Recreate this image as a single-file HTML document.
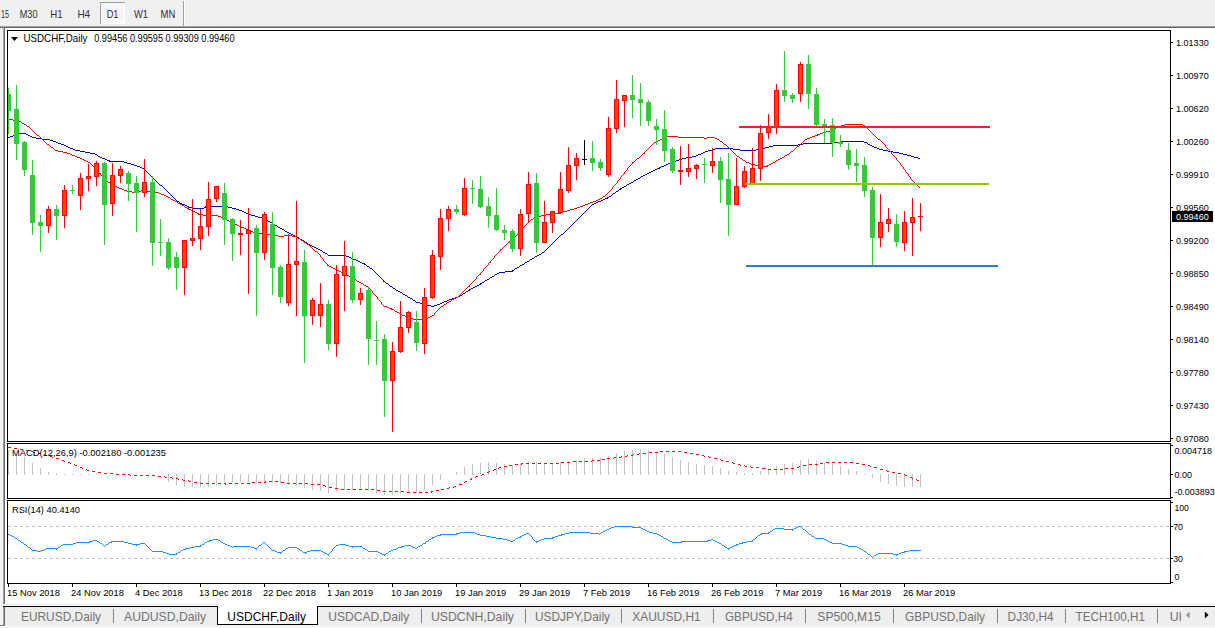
<!DOCTYPE html>
<html><head><meta charset="utf-8"><title>USDCHF,Daily</title>
<style>html,body{margin:0;padding:0;background:#fff;overflow:hidden}body{width:1215px;height:628px;font-family:"Liberation Sans",sans-serif}svg{display:block}</style></head>
<body>
<svg width="1215" height="628" viewBox="0 0 1215 628" font-family="Liberation Sans, sans-serif" shape-rendering="crispEdges">
<defs><clipPath id="cm"><rect x="8" y="31" width="1162" height="410"/></clipPath><clipPath id="cax"><rect x="1171" y="28" width="44" height="414"/></clipPath><clipPath id="ctab"><rect x="0" y="607" width="1181" height="19"/></clipPath><pattern id="dots" width="2" height="2" patternUnits="userSpaceOnUse"><rect width="2" height="2" fill="#f0f0f0"/><rect width="1" height="1" fill="#fbfbfb"/><rect x="1" y="1" width="1" height="1" fill="#fbfbfb"/></pattern></defs>
<rect x="0" y="0" width="1215" height="628" fill="#ffffff"/>
<rect x="0" y="0" width="1215" height="26" fill="#f0f0f0"/>
<rect x="0" y="26" width="1215" height="1" fill="#a0a0a0"/>
<rect x="0" y="27" width="1215" height="1" fill="#696969"/>
<rect x="0" y="28" width="3" height="600" fill="#f4f4f4"/>
<rect x="3" y="27" width="1" height="598" fill="#a0a0a0"/>
<rect x="4" y="27" width="1" height="598" fill="#696969"/>
<rect x="100" y="2" width="25" height="22" fill="url(#dots)"/>
<rect x="100" y="2" width="25" height="1" fill="#a0a0a0"/>
<rect x="100" y="2" width="1" height="22" fill="#a0a0a0"/>
<rect x="124" y="3" width="1" height="21" fill="#ffffff"/>
<rect x="101" y="23" width="24" height="1" fill="#ffffff"/>
<rect x="183" y="1" width="1" height="25" fill="#a0a0a0"/>
<rect x="184" y="1" width="1" height="25" fill="#ffffff"/>
<text x="1" y="17.8" font-size="10.2" fill="#303030" textLength="8" lengthAdjust="spacingAndGlyphs">15</text>
<text x="19.75" y="17.8" font-size="10.2" fill="#303030" textLength="17.8" lengthAdjust="spacingAndGlyphs">M30</text>
<text x="50.2" y="17.8" font-size="10.2" fill="#303030" textLength="12.3" lengthAdjust="spacingAndGlyphs">H1</text>
<text x="77.4" y="17.8" font-size="10.2" fill="#303030" textLength="12.8" lengthAdjust="spacingAndGlyphs">H4</text>
<text x="106.7" y="17.8" font-size="10.2" fill="#303030" textLength="11.8" lengthAdjust="spacingAndGlyphs">D1</text>
<text x="134" y="17.8" font-size="10.2" fill="#303030" textLength="14" lengthAdjust="spacingAndGlyphs">W1</text>
<text x="160.5" y="17.8" font-size="10.2" fill="#303030" textLength="14.8" lengthAdjust="spacingAndGlyphs">MN</text>
<rect x="7" y="30" width="1164" height="1" fill="#000"/>
<rect x="7" y="441" width="1164" height="1" fill="#000"/>
<rect x="7" y="30" width="1" height="412" fill="#000"/>
<rect x="1170" y="30" width="1" height="412" fill="#000"/>
<rect x="7" y="443" width="1164" height="1" fill="#000"/>
<rect x="7" y="498" width="1164" height="1" fill="#000"/>
<rect x="7" y="443" width="1" height="56" fill="#000"/>
<rect x="1170" y="443" width="1" height="56" fill="#000"/>
<rect x="7" y="500" width="1164" height="1" fill="#000"/>
<rect x="7" y="583" width="1164" height="1" fill="#000"/>
<rect x="7" y="500" width="1" height="84" fill="#000"/>
<rect x="1170" y="500" width="1" height="84" fill="#000"/>
<g clip-path="url(#cm)">
<path d="M19 133h7v1h-7zM15 134h4v1h-4zM26 134h2v1h-2zM13 135h3v1h-3zM28 135h2v1h-2zM10 136h3v1h-3zM30 136h2v1h-2zM8 137h2v1h-2zM32 137h4v1h-4zM36 138h6v1h-6zM42 139h8v1h-8zM50 140h3v1h-3zM53 141h3v1h-3zM840 141h24v1h-24zM56 142h2v1h-2zM832 142h8v1h-8zM864 142h3v1h-3zM58 143h3v1h-3zM803 143h30v1h-30zM867 143h1v1h-1zM61 144h3v1h-3zM798 144h5v1h-5zM868 144h2v1h-2zM64 145h2v1h-2zM773 145h25v1h-25zM870 145h2v1h-2zM66 146h2v1h-2zM769 146h4v1h-4zM872 146h2v1h-2zM68 147h2v1h-2zM765 147h4v1h-4zM874 147h3v1h-3zM70 148h3v1h-3zM715 148h18v1h-18zM760 148h5v1h-5zM877 148h2v1h-2zM73 149h2v1h-2zM712 149h3v1h-3zM733 149h7v1h-7zM756 149h4v1h-4zM879 149h4v1h-4zM75 150h5v1h-5zM708 150h4v1h-4zM740 150h16v1h-16zM883 150h5v1h-5zM80 151h5v1h-5zM705 151h3v1h-3zM888 151h5v1h-5zM85 152h5v1h-5zM703 152h2v1h-2zM893 152h6v1h-6zM90 153h5v1h-5zM701 153h2v1h-2zM899 153h4v1h-4zM95 154h2v1h-2zM698 154h3v1h-3zM903 154h4v1h-4zM97 155h1v1h-1zM696 155h2v1h-2zM907 155h4v1h-4zM98 156h2v1h-2zM692 156h4v1h-4zM911 156h3v1h-3zM100 157h2v1h-2zM686 157h6v1h-6zM914 157h4v1h-4zM102 158h3v1h-3zM682 158h4v1h-4zM918 158h2v1h-2zM105 159h2v1h-2zM679 159h3v1h-3zM107 160h3v1h-3zM676 160h3v1h-3zM109 161h15v1h-15zM673 161h3v1h-3zM124 162h3v1h-3zM671 162h2v1h-2zM127 163h4v1h-4zM668 163h3v1h-3zM131 164h3v1h-3zM666 164h2v1h-2zM134 165h3v1h-3zM664 165h2v1h-2zM137 166h3v1h-3zM661 166h3v1h-3zM140 167h2v1h-2zM659 167h2v1h-2zM142 168h2v1h-2zM657 168h3v1h-3zM144 169h1v1h-1zM655 169h2v1h-2zM145 170h1v1h-1zM653 170h2v1h-2zM146 171h1v1h-1zM651 171h2v1h-2zM147 172h1v1h-1zM649 172h2v1h-2zM148 173h1v1h-1zM647 173h2v1h-2zM149 174h1v1h-1zM645 174h2v1h-2zM150 175h1v1h-1zM643 175h2v1h-2zM151 176h1v1h-1zM641 176h2v1h-2zM152 177h1v1h-1zM640 177h1v1h-1zM153 178h1v1h-1zM638 178h2v1h-2zM154 179h1v1h-1zM636 179h2v1h-2zM155 180h1v1h-1zM634 180h2v1h-2zM156 181h1v1h-1zM633 181h1v1h-1zM157 182h1v1h-1zM631 182h2v1h-2zM158 183h1v1h-1zM629 183h2v1h-2zM159 184h1v1h-1zM627 184h2v1h-2zM160 185h2v1h-2zM626 185h1v1h-1zM162 186h1v1h-1zM624 186h2v1h-2zM163 187h1v1h-1zM622 187h2v1h-2zM164 188h1v1h-1zM620 188h2v1h-2zM165 189h1v1h-1zM619 189h2v1h-2zM166 190h1v1h-1zM618 190h1v1h-1zM167 191h1v1h-1zM616 191h2v1h-2zM168 192h1v1h-1zM615 192h1v1h-1zM169 193h1v1h-1zM613 193h2v1h-2zM170 194h1v1h-1zM612 194h1v1h-1zM171 195h1v1h-1zM611 195h1v1h-1zM172 196h1v1h-1zM609 196h2v1h-2zM173 197h1v1h-1zM607 197h2v1h-2zM174 198h1v1h-1zM605 198h3v1h-3zM175 199h1v1h-1zM603 199h2v1h-2zM176 200h1v1h-1zM601 200h2v1h-2zM177 201h2v1h-2zM598 201h3v1h-3zM179 202h1v1h-1zM596 202h2v1h-2zM180 203h2v1h-2zM594 203h2v1h-2zM182 204h3v1h-3zM592 204h2v1h-2zM185 205h2v1h-2zM591 205h1v1h-1zM187 206h2v1h-2zM205 206h23v1h-23zM590 206h1v1h-1zM188 207h5v1h-5zM204 207h2v1h-2zM228 207h4v1h-4zM589 207h1v1h-1zM193 208h11v1h-11zM232 208h4v1h-4zM588 208h1v1h-1zM236 209h3v1h-3zM587 209h1v1h-1zM239 210h3v1h-3zM586 210h1v1h-1zM242 211h2v1h-2zM585 211h1v1h-1zM244 212h2v1h-2zM584 212h1v1h-1zM246 213h2v1h-2zM583 213h1v1h-1zM248 214h3v1h-3zM582 214h1v1h-1zM251 215h4v1h-4zM581 215h1v1h-1zM255 216h3v1h-3zM580 216h1v1h-1zM258 217h4v1h-4zM579 217h1v1h-1zM262 218h3v1h-3zM578 218h1v1h-1zM265 219h1v1h-1zM577 219h1v1h-1zM266 220h2v1h-2zM576 220h1v1h-1zM268 221h2v1h-2zM575 221h1v1h-1zM270 222h2v1h-2zM574 222h1v1h-1zM272 223h1v1h-1zM573 223h1v1h-1zM273 224h2v1h-2zM572 224h1v1h-1zM275 225h2v1h-2zM571 225h1v1h-1zM277 226h1v1h-1zM570 226h1v1h-1zM278 227h2v1h-2zM569 227h1v1h-1zM280 228h2v1h-2zM568 228h1v1h-1zM282 229h2v1h-2zM567 229h1v1h-1zM284 230h1v1h-1zM566 230h1v1h-1zM285 231h2v1h-2zM565 231h1v1h-1zM287 232h2v1h-2zM564 232h1v1h-1zM289 233h2v1h-2zM563 233h1v1h-1zM291 234h2v1h-2zM561 234h2v1h-2zM293 235h2v1h-2zM560 235h1v1h-1zM295 236h2v1h-2zM559 236h1v1h-1zM297 237h2v1h-2zM558 237h1v1h-1zM299 238h1v1h-1zM557 238h1v1h-1zM300 239h2v1h-2zM556 239h1v1h-1zM302 240h2v1h-2zM555 240h1v1h-1zM304 241h1v1h-1zM554 241h1v1h-1zM305 242h2v1h-2zM553 242h1v1h-1zM307 243h1v1h-1zM552 243h1v1h-1zM308 244h2v1h-2zM551 244h1v1h-1zM310 245h2v1h-2zM550 245h1v1h-1zM312 246h2v1h-2zM549 246h1v1h-1zM314 247h2v1h-2zM548 247h1v1h-1zM316 248h2v1h-2zM547 248h1v1h-1zM318 249h2v1h-2zM546 249h1v1h-1zM320 250h2v1h-2zM545 250h1v1h-1zM322 251h1v1h-1zM544 251h1v1h-1zM323 252h2v1h-2zM542 252h2v1h-2zM325 253h2v1h-2zM541 253h1v1h-1zM327 254h1v1h-1zM539 254h2v1h-2zM328 255h18v1h-18zM537 255h2v1h-2zM346 256h3v1h-3zM535 256h2v1h-2zM349 257h2v1h-2zM534 257h1v1h-1zM351 258h2v1h-2zM532 258h2v1h-2zM353 259h3v1h-3zM530 259h2v1h-2zM356 260h2v1h-2zM529 260h1v1h-1zM358 261h2v1h-2zM527 261h2v1h-2zM360 262h2v1h-2zM525 262h2v1h-2zM362 263h3v1h-3zM524 263h1v1h-1zM364 264h2v1h-2zM522 264h2v1h-2zM366 265h1v1h-1zM520 265h2v1h-2zM367 266h2v1h-2zM519 266h1v1h-1zM369 267h1v1h-1zM517 267h2v1h-2zM370 268h2v1h-2zM515 268h2v1h-2zM372 269h1v1h-1zM514 269h1v1h-1zM373 270h1v1h-1zM512 270h2v1h-2zM374 271h1v1h-1zM505 271h8v1h-8zM375 272h1v1h-1zM499 272h6v1h-6zM376 273h1v1h-1zM497 273h2v1h-2zM377 274h1v1h-1zM495 274h2v1h-2zM378 275h1v1h-1zM494 275h1v1h-1zM379 276h1v1h-1zM492 276h2v1h-2zM380 277h1v1h-1zM490 277h2v1h-2zM381 278h1v1h-1zM489 278h1v1h-1zM382 279h1v1h-1zM487 279h2v1h-2zM383 280h1v1h-1zM485 280h2v1h-2zM383 281h2v1h-2zM484 281h1v1h-1zM385 282h1v1h-1zM482 282h2v1h-2zM386 283h2v1h-2zM480 283h2v1h-2zM388 284h1v1h-1zM479 284h2v1h-2zM389 285h1v1h-1zM477 285h2v1h-2zM390 286h2v1h-2zM475 286h2v1h-2zM392 287h1v1h-1zM473 287h2v1h-2zM393 288h2v1h-2zM471 288h2v1h-2zM395 289h1v1h-1zM469 289h2v1h-2zM396 290h2v1h-2zM468 290h2v1h-2zM398 291h2v1h-2zM466 291h2v1h-2zM400 292h2v1h-2zM465 292h1v1h-1zM402 293h1v1h-1zM463 293h2v1h-2zM403 294h2v1h-2zM462 294h1v1h-1zM405 295h2v1h-2zM460 295h2v1h-2zM407 296h1v1h-1zM458 296h2v1h-2zM408 297h2v1h-2zM455 297h3v1h-3zM410 298h2v1h-2zM452 298h3v1h-3zM412 299h1v1h-1zM449 299h3v1h-3zM413 300h2v1h-2zM447 300h2v1h-2zM415 301h1v1h-1zM444 301h3v1h-3zM416 302h4v1h-4zM442 302h2v1h-2zM420 303h4v1h-4zM440 303h2v1h-2zM424 304h2v1h-2zM437 304h3v1h-3zM426 305h5v1h-5zM434 305h3v1h-3zM431 306h3v1h-3z" fill="#0000CD"/>
<path d="M8 119h5v1h-5zM13 120h6v1h-6zM19 121h2v1h-2zM21 122h1v1h-1zM22 123h2v1h-2zM24 124h2v1h-2zM845 124h18v1h-18zM26 125h1v1h-1zM841 125h4v1h-4zM863 125h2v1h-2zM27 126h2v1h-2zM839 126h2v1h-2zM865 126h1v1h-1zM29 127h1v1h-1zM836 127h3v1h-3zM866 127h1v1h-1zM30 128h1v1h-1zM834 128h2v1h-2zM867 128h1v1h-1zM31 129h1v1h-1zM832 129h2v1h-2zM868 129h1v1h-1zM32 130h1v1h-1zM830 130h2v1h-2zM869 130h1v1h-1zM33 131h1v1h-1zM826 131h4v1h-4zM870 131h1v1h-1zM34 132h1v1h-1zM823 132h3v1h-3zM871 132h1v1h-1zM35 133h1v1h-1zM820 133h3v1h-3zM872 133h1v1h-1zM36 134h1v1h-1zM817 134h3v1h-3zM873 134h1v1h-1zM37 135h2v1h-2zM815 135h3v1h-3zM874 135h1v1h-1zM39 136h1v1h-1zM666 136h12v1h-12zM812 136h3v1h-3zM875 136h1v1h-1zM40 137h1v1h-1zM664 137h2v1h-2zM678 137h26v1h-26zM707 137h8v1h-8zM810 137h2v1h-2zM876 137h1v1h-1zM41 138h1v1h-1zM662 138h2v1h-2zM704 138h3v1h-3zM715 138h2v1h-2zM807 138h3v1h-3zM877 138h1v1h-1zM42 139h1v1h-1zM660 139h2v1h-2zM717 139h2v1h-2zM805 139h2v1h-2zM878 139h2v1h-2zM43 140h1v1h-1zM658 140h2v1h-2zM719 140h1v1h-1zM804 140h1v1h-1zM880 140h1v1h-1zM44 141h1v1h-1zM656 141h2v1h-2zM720 141h2v1h-2zM803 141h1v1h-1zM881 141h1v1h-1zM45 142h1v1h-1zM654 142h2v1h-2zM722 142h1v1h-1zM802 142h1v1h-1zM882 142h1v1h-1zM46 143h1v1h-1zM653 143h1v1h-1zM723 143h1v1h-1zM801 143h1v1h-1zM883 143h1v1h-1zM47 144h2v1h-2zM652 144h1v1h-1zM724 144h2v1h-2zM800 144h1v1h-1zM884 144h1v1h-1zM49 145h1v1h-1zM651 145h1v1h-1zM726 145h1v1h-1zM799 145h1v1h-1zM885 145h1v1h-1zM50 146h1v1h-1zM650 146h1v1h-1zM727 146h1v1h-1zM797 146h2v1h-2zM885 146h1v1h-1zM51 147h2v1h-2zM649 147h1v1h-1zM728 147h1v1h-1zM796 147h1v1h-1zM886 147h1v1h-1zM53 148h1v1h-1zM648 148h1v1h-1zM729 148h1v1h-1zM795 148h1v1h-1zM887 148h1v1h-1zM54 149h1v1h-1zM647 149h1v1h-1zM730 149h1v1h-1zM794 149h1v1h-1zM888 149h1v1h-1zM55 150h3v1h-3zM646 150h1v1h-1zM731 150h1v1h-1zM793 150h1v1h-1zM889 150h1v1h-1zM58 151h5v1h-5zM645 151h1v1h-1zM732 151h1v1h-1zM791 151h2v1h-2zM890 151h1v1h-1zM63 152h4v1h-4zM644 152h1v1h-1zM733 152h1v1h-1zM790 152h1v1h-1zM891 152h1v1h-1zM67 153h3v1h-3zM643 153h2v1h-2zM734 153h1v1h-1zM789 153h1v1h-1zM891 153h1v1h-1zM70 154h2v1h-2zM642 154h1v1h-1zM735 154h1v1h-1zM787 154h2v1h-2zM892 154h1v1h-1zM72 155h3v1h-3zM641 155h1v1h-1zM736 155h1v1h-1zM785 155h2v1h-2zM893 155h1v1h-1zM75 156h2v1h-2zM640 156h1v1h-1zM737 156h2v1h-2zM784 156h1v1h-1zM894 156h1v1h-1zM77 157h3v1h-3zM639 157h1v1h-1zM739 157h1v1h-1zM782 157h2v1h-2zM895 157h1v1h-1zM80 158h2v1h-2zM637 158h2v1h-2zM740 158h2v1h-2zM780 158h2v1h-2zM896 158h1v1h-1zM82 159h2v1h-2zM636 159h1v1h-1zM742 159h1v1h-1zM778 159h2v1h-2zM896 159h1v1h-1zM84 160h2v1h-2zM635 160h1v1h-1zM743 160h2v1h-2zM776 160h2v1h-2zM897 160h1v1h-1zM86 161h2v1h-2zM634 161h1v1h-1zM745 161h1v1h-1zM775 161h1v1h-1zM898 161h1v1h-1zM88 162h2v1h-2zM632 162h2v1h-2zM746 162h3v1h-3zM773 162h2v1h-2zM899 162h1v1h-1zM90 163h1v1h-1zM632 163h1v1h-1zM749 163h2v1h-2zM771 163h2v1h-2zM900 163h1v1h-1zM91 164h1v1h-1zM631 164h1v1h-1zM751 164h4v1h-4zM769 164h2v1h-2zM900 164h1v1h-1zM92 165h1v1h-1zM630 165h1v1h-1zM755 165h5v1h-5zM767 165h2v1h-2zM901 165h1v1h-1zM93 166h1v1h-1zM629 166h1v1h-1zM760 166h8v1h-8zM902 166h1v1h-1zM94 167h1v1h-1zM628 167h1v1h-1zM903 167h1v1h-1zM95 168h1v1h-1zM627 168h1v1h-1zM903 168h1v1h-1zM96 169h1v1h-1zM627 169h1v1h-1zM904 169h1v1h-1zM97 170h1v1h-1zM626 170h1v1h-1zM905 170h1v1h-1zM98 171h1v1h-1zM625 171h1v1h-1zM905 171h1v1h-1zM98 172h1v1h-1zM624 172h1v1h-1zM906 172h1v1h-1zM99 173h2v1h-2zM624 173h1v1h-1zM907 173h1v1h-1zM100 174h1v1h-1zM623 174h1v1h-1zM908 174h1v1h-1zM101 175h1v1h-1zM622 175h1v1h-1zM908 175h1v1h-1zM102 176h1v1h-1zM621 176h1v1h-1zM909 176h1v1h-1zM103 177h1v1h-1zM620 177h1v1h-1zM910 177h1v1h-1zM104 178h1v1h-1zM620 178h1v1h-1zM910 178h1v1h-1zM105 179h1v1h-1zM619 179h1v1h-1zM911 179h1v1h-1zM106 180h1v1h-1zM618 180h1v1h-1zM912 180h1v1h-1zM107 181h1v1h-1zM617 181h1v1h-1zM913 181h1v1h-1zM108 182h2v1h-2zM617 182h1v1h-1zM914 182h1v1h-1zM110 183h2v1h-2zM616 183h1v1h-1zM915 183h1v1h-1zM112 184h1v1h-1zM615 184h1v1h-1zM916 184h1v1h-1zM113 185h2v1h-2zM614 185h1v1h-1zM917 185h1v1h-1zM115 186h2v1h-2zM613 186h1v1h-1zM918 186h1v1h-1zM117 187h2v1h-2zM612 187h1v1h-1zM919 187h1v1h-1zM119 188h3v1h-3zM612 188h1v1h-1zM122 189h2v1h-2zM611 189h1v1h-1zM124 190h3v1h-3zM141 190h2v1h-2zM610 190h1v1h-1zM127 191h5v1h-5zM137 191h4v1h-4zM143 191h10v1h-10zM609 191h1v1h-1zM132 192h5v1h-5zM153 192h6v1h-6zM608 192h1v1h-1zM159 193h2v1h-2zM607 193h1v1h-1zM161 194h3v1h-3zM606 194h1v1h-1zM164 195h2v1h-2zM605 195h1v1h-1zM166 196h2v1h-2zM603 196h2v1h-2zM168 197h2v1h-2zM602 197h1v1h-1zM170 198h1v1h-1zM600 198h2v1h-2zM171 199h2v1h-2zM598 199h2v1h-2zM173 200h2v1h-2zM596 200h2v1h-2zM175 201h2v1h-2zM593 201h3v1h-3zM177 202h1v1h-1zM590 202h3v1h-3zM178 203h2v1h-2zM588 203h2v1h-2zM180 204h2v1h-2zM585 204h3v1h-3zM182 205h2v1h-2zM583 205h2v1h-2zM184 206h1v1h-1zM580 206h3v1h-3zM185 207h2v1h-2zM577 207h3v1h-3zM187 208h2v1h-2zM574 208h3v1h-3zM188 209h3v1h-3zM570 209h4v1h-4zM191 210h2v1h-2zM567 210h3v1h-3zM193 211h2v1h-2zM563 211h4v1h-4zM195 212h2v1h-2zM560 212h3v1h-3zM197 213h2v1h-2zM553 213h8v1h-8zM198 214h5v1h-5zM546 214h7v1h-7zM203 215h15v1h-15zM541 215h5v1h-5zM218 216h3v1h-3zM537 216h4v1h-4zM221 217h2v1h-2zM534 217h3v1h-3zM223 218h2v1h-2zM533 218h1v1h-1zM225 219h2v1h-2zM531 219h2v1h-2zM227 220h2v1h-2zM530 220h1v1h-1zM229 221h2v1h-2zM528 221h2v1h-2zM231 222h2v1h-2zM528 222h1v1h-1zM233 223h2v1h-2zM527 223h1v1h-1zM235 224h2v1h-2zM526 224h1v1h-1zM237 225h2v1h-2zM525 225h1v1h-1zM239 226h2v1h-2zM524 226h1v1h-1zM241 227h3v1h-3zM523 227h1v1h-1zM244 228h2v1h-2zM522 228h1v1h-1zM246 229h2v1h-2zM522 229h1v1h-1zM248 230h3v1h-3zM521 230h1v1h-1zM251 231h2v1h-2zM520 231h1v1h-1zM253 232h6v1h-6zM519 232h1v1h-1zM259 233h8v1h-8zM518 233h1v1h-1zM267 234h8v1h-8zM517 234h1v1h-1zM275 235h3v1h-3zM284 235h8v1h-8zM516 235h1v1h-1zM278 236h6v1h-6zM292 236h5v1h-5zM515 236h1v1h-1zM297 237h1v1h-1zM514 237h1v1h-1zM298 238h2v1h-2zM513 238h1v1h-1zM300 239h1v1h-1zM512 239h1v1h-1zM301 240h2v1h-2zM510 240h2v1h-2zM303 241h1v1h-1zM509 241h1v1h-1zM304 242h2v1h-2zM508 242h2v1h-2zM306 243h1v1h-1zM507 243h1v1h-1zM307 244h2v1h-2zM506 244h1v1h-1zM309 245h1v1h-1zM505 245h1v1h-1zM310 246h1v1h-1zM504 246h1v1h-1zM311 247h1v1h-1zM503 247h1v1h-1zM312 248h1v1h-1zM502 248h1v1h-1zM313 249h1v1h-1zM500 249h2v1h-2zM314 250h1v1h-1zM500 250h1v1h-1zM315 251h2v1h-2zM499 251h1v1h-1zM317 252h1v1h-1zM498 252h1v1h-1zM318 253h1v1h-1zM497 253h1v1h-1zM319 254h1v1h-1zM496 254h1v1h-1zM320 255h1v1h-1zM495 255h1v1h-1zM320 256h1v1h-1zM494 256h1v1h-1zM321 257h1v1h-1zM494 257h1v1h-1zM322 258h1v1h-1zM493 258h1v1h-1zM323 259h1v1h-1zM492 259h1v1h-1zM323 260h1v1h-1zM491 260h1v1h-1zM324 261h1v1h-1zM490 261h1v1h-1zM325 262h1v1h-1zM489 262h2v1h-2zM326 263h1v1h-1zM488 263h1v1h-1zM327 264h1v1h-1zM488 264h1v1h-1zM327 265h2v1h-2zM487 265h1v1h-1zM329 266h2v1h-2zM486 266h1v1h-1zM331 267h2v1h-2zM485 267h1v1h-1zM333 268h2v1h-2zM484 268h1v1h-1zM335 269h2v1h-2zM483 269h1v1h-1zM337 270h2v1h-2zM483 270h1v1h-1zM339 271h2v1h-2zM482 271h1v1h-1zM341 272h2v1h-2zM481 272h1v1h-1zM343 273h2v1h-2zM480 273h1v1h-1zM345 274h2v1h-2zM479 274h2v1h-2zM347 275h2v1h-2zM478 275h1v1h-1zM349 276h2v1h-2zM477 276h1v1h-1zM351 277h1v1h-1zM476 277h1v1h-1zM352 278h2v1h-2zM476 278h1v1h-1zM354 279h2v1h-2zM475 279h1v1h-1zM356 280h1v1h-1zM474 280h1v1h-1zM357 281h2v1h-2zM473 281h1v1h-1zM359 282h2v1h-2zM472 282h1v1h-1zM361 283h2v1h-2zM471 283h1v1h-1zM363 284h1v1h-1zM470 284h1v1h-1zM364 285h2v1h-2zM469 285h1v1h-1zM366 286h2v1h-2zM468 286h2v1h-2zM368 287h1v1h-1zM467 287h1v1h-1zM369 288h1v1h-1zM466 288h1v1h-1zM370 289h1v1h-1zM465 289h1v1h-1zM371 290h1v1h-1zM464 290h1v1h-1zM372 291h1v1h-1zM463 291h1v1h-1zM372 292h1v1h-1zM462 292h1v1h-1zM373 293h1v1h-1zM461 293h1v1h-1zM374 294h1v1h-1zM460 294h1v1h-1zM375 295h1v1h-1zM459 295h1v1h-1zM376 296h1v1h-1zM458 296h1v1h-1zM377 297h1v1h-1zM456 297h2v1h-2zM377 298h1v1h-1zM454 298h2v1h-2zM378 299h1v1h-1zM452 299h2v1h-2zM379 300h1v1h-1zM451 300h1v1h-1zM380 301h1v1h-1zM449 301h2v1h-2zM381 302h1v1h-1zM447 302h2v1h-2zM381 303h1v1h-1zM446 303h1v1h-1zM382 304h1v1h-1zM444 304h2v1h-2zM383 305h1v1h-1zM443 305h1v1h-1zM384 306h3v1h-3zM441 306h2v1h-2zM387 307h2v1h-2zM440 307h1v1h-1zM389 308h3v1h-3zM439 308h1v1h-1zM391 309h3v1h-3zM438 309h1v1h-1zM394 310h1v1h-1zM437 310h1v1h-1zM395 311h2v1h-2zM436 311h1v1h-1zM397 312h2v1h-2zM435 312h1v1h-1zM399 313h1v1h-1zM434 313h1v1h-1zM400 314h2v1h-2zM434 314h1v1h-1zM402 315h3v1h-3zM432 315h2v1h-2zM405 316h3v1h-3zM430 316h2v1h-2zM408 317h2v1h-2zM428 317h2v1h-2zM410 318h3v1h-3zM424 318h4v1h-4zM413 319h11v1h-11z" fill="#FF0000"/>
<rect x="8" y="88" width="1" height="46" fill="#32CD32"/>
<rect x="6" y="94" width="5" height="17" fill="#32CD32"/>
<rect x="16" y="85" width="1" height="75" fill="#32CD32"/>
<rect x="14" y="109" width="5" height="35" fill="#32CD32"/>
<rect x="24" y="141" width="1" height="35" fill="#32CD32"/>
<rect x="22" y="142" width="5" height="28" fill="#32CD32"/>
<rect x="32" y="160" width="1" height="75" fill="#32CD32"/>
<rect x="30" y="175" width="5" height="48" fill="#32CD32"/>
<rect x="40" y="215" width="1" height="37" fill="#32CD32"/>
<rect x="38" y="222" width="5" height="4" fill="#32CD32"/>
<rect x="48" y="206" width="1" height="27" fill="#FF0000"/>
<rect x="46" y="209" width="5" height="17" fill="#FF0000"/>
<rect x="47" y="210" width="3" height="15" fill="#FF4500"/>
<rect x="56" y="205" width="1" height="35" fill="#32CD32"/>
<rect x="54" y="209" width="5" height="7" fill="#32CD32"/>
<rect x="64" y="185" width="1" height="43" fill="#FF0000"/>
<rect x="62" y="190" width="5" height="26" fill="#FF0000"/>
<rect x="63" y="191" width="3" height="24" fill="#FF4500"/>
<rect x="72" y="185" width="1" height="9" fill="#32CD32"/>
<rect x="70" y="190" width="5" height="1" fill="#32CD32"/>
<rect x="80" y="173" width="1" height="37" fill="#FF0000"/>
<rect x="78" y="178" width="5" height="18" fill="#FF0000"/>
<rect x="79" y="179" width="3" height="16" fill="#FF4500"/>
<rect x="88" y="164" width="1" height="27" fill="#FF0000"/>
<rect x="86" y="176" width="5" height="3" fill="#FF0000"/>
<rect x="87" y="177" width="3" height="1" fill="#FF4500"/>
<rect x="96" y="161" width="1" height="25" fill="#FF0000"/>
<rect x="94" y="163" width="5" height="14" fill="#FF0000"/>
<rect x="95" y="164" width="3" height="12" fill="#FF4500"/>
<rect x="104" y="162" width="1" height="83" fill="#32CD32"/>
<rect x="102" y="163" width="5" height="42" fill="#32CD32"/>
<rect x="112" y="163" width="1" height="53" fill="#FF0000"/>
<rect x="110" y="175" width="5" height="29" fill="#FF0000"/>
<rect x="111" y="176" width="3" height="27" fill="#FF4500"/>
<rect x="120" y="166" width="1" height="17" fill="#FF0000"/>
<rect x="118" y="169" width="5" height="7" fill="#FF0000"/>
<rect x="119" y="170" width="3" height="5" fill="#FF4500"/>
<rect x="128" y="171" width="1" height="30" fill="#32CD32"/>
<rect x="126" y="173" width="5" height="11" fill="#32CD32"/>
<rect x="136" y="176" width="1" height="56" fill="#32CD32"/>
<rect x="134" y="183" width="5" height="10" fill="#32CD32"/>
<rect x="144" y="159" width="1" height="38" fill="#FF0000"/>
<rect x="142" y="182" width="5" height="11" fill="#FF0000"/>
<rect x="143" y="183" width="3" height="9" fill="#FF4500"/>
<rect x="152" y="176" width="1" height="90" fill="#32CD32"/>
<rect x="150" y="182" width="5" height="61" fill="#32CD32"/>
<rect x="160" y="219" width="1" height="37" fill="#32CD32"/>
<rect x="158" y="242" width="5" height="1" fill="#32CD32"/>
<rect x="168" y="238" width="1" height="32" fill="#32CD32"/>
<rect x="166" y="242" width="5" height="26" fill="#32CD32"/>
<rect x="176" y="252" width="1" height="38" fill="#32CD32"/>
<rect x="174" y="257" width="5" height="11" fill="#32CD32"/>
<rect x="184" y="240" width="1" height="55" fill="#FF0000"/>
<rect x="182" y="240" width="5" height="28" fill="#FF0000"/>
<rect x="183" y="241" width="3" height="26" fill="#FF4500"/>
<rect x="192" y="199" width="1" height="47" fill="#FF0000"/>
<rect x="190" y="238" width="5" height="3" fill="#FF0000"/>
<rect x="191" y="239" width="3" height="1" fill="#FF4500"/>
<rect x="200" y="209" width="1" height="41" fill="#FF0000"/>
<rect x="198" y="226" width="5" height="13" fill="#FF0000"/>
<rect x="199" y="227" width="3" height="11" fill="#FF4500"/>
<rect x="208" y="182" width="1" height="54" fill="#FF0000"/>
<rect x="206" y="199" width="5" height="28" fill="#FF0000"/>
<rect x="207" y="200" width="3" height="26" fill="#FF4500"/>
<rect x="216" y="186" width="1" height="16" fill="#FF0000"/>
<rect x="214" y="186" width="5" height="13" fill="#FF0000"/>
<rect x="215" y="187" width="3" height="11" fill="#FF4500"/>
<rect x="224" y="183" width="1" height="62" fill="#32CD32"/>
<rect x="222" y="193" width="5" height="27" fill="#32CD32"/>
<rect x="232" y="218" width="1" height="43" fill="#32CD32"/>
<rect x="230" y="219" width="5" height="15" fill="#32CD32"/>
<rect x="240" y="220" width="1" height="35" fill="#FF0000"/>
<rect x="238" y="233" width="5" height="2" fill="#FF0000"/>
<rect x="248" y="208" width="1" height="86" fill="#FF0000"/>
<rect x="246" y="230" width="5" height="4" fill="#FF0000"/>
<rect x="247" y="231" width="3" height="2" fill="#FF4500"/>
<rect x="256" y="225" width="1" height="91" fill="#32CD32"/>
<rect x="254" y="228" width="5" height="25" fill="#32CD32"/>
<rect x="264" y="212" width="1" height="48" fill="#FF0000"/>
<rect x="262" y="214" width="5" height="39" fill="#FF0000"/>
<rect x="263" y="215" width="3" height="37" fill="#FF4500"/>
<rect x="272" y="212" width="1" height="83" fill="#32CD32"/>
<rect x="270" y="224" width="5" height="44" fill="#32CD32"/>
<rect x="280" y="265" width="1" height="38" fill="#32CD32"/>
<rect x="278" y="267" width="5" height="30" fill="#32CD32"/>
<rect x="288" y="234" width="1" height="72" fill="#FF0000"/>
<rect x="286" y="264" width="5" height="39" fill="#FF0000"/>
<rect x="287" y="265" width="3" height="37" fill="#FF4500"/>
<rect x="296" y="201" width="1" height="115" fill="#FF0000"/>
<rect x="294" y="261" width="5" height="4" fill="#FF0000"/>
<rect x="295" y="262" width="3" height="2" fill="#FF4500"/>
<rect x="304" y="250" width="1" height="113" fill="#32CD32"/>
<rect x="302" y="262" width="5" height="54" fill="#32CD32"/>
<rect x="312" y="298" width="1" height="27" fill="#FF0000"/>
<rect x="310" y="300" width="5" height="16" fill="#FF0000"/>
<rect x="311" y="301" width="3" height="14" fill="#FF4500"/>
<rect x="320" y="283" width="1" height="44" fill="#FF0000"/>
<rect x="318" y="304" width="5" height="12" fill="#FF0000"/>
<rect x="319" y="305" width="3" height="10" fill="#FF4500"/>
<rect x="328" y="300" width="1" height="50" fill="#32CD32"/>
<rect x="326" y="304" width="5" height="40" fill="#32CD32"/>
<rect x="336" y="265" width="1" height="92" fill="#FF0000"/>
<rect x="334" y="274" width="5" height="70" fill="#FF0000"/>
<rect x="335" y="275" width="3" height="68" fill="#FF4500"/>
<rect x="344" y="241" width="1" height="70" fill="#FF0000"/>
<rect x="342" y="266" width="5" height="10" fill="#FF0000"/>
<rect x="343" y="267" width="3" height="8" fill="#FF4500"/>
<rect x="352" y="252" width="1" height="51" fill="#32CD32"/>
<rect x="350" y="266" width="5" height="34" fill="#32CD32"/>
<rect x="360" y="288" width="1" height="17" fill="#FF0000"/>
<rect x="358" y="293" width="5" height="7" fill="#FF0000"/>
<rect x="359" y="294" width="3" height="5" fill="#FF4500"/>
<rect x="368" y="288" width="1" height="77" fill="#32CD32"/>
<rect x="366" y="290" width="5" height="49" fill="#32CD32"/>
<rect x="376" y="321" width="1" height="44" fill="#32CD32"/>
<rect x="374" y="340" width="5" height="1" fill="#32CD32"/>
<rect x="384" y="334" width="1" height="83" fill="#32CD32"/>
<rect x="382" y="339" width="5" height="42" fill="#32CD32"/>
<rect x="392" y="342" width="1" height="90" fill="#FF0000"/>
<rect x="390" y="351" width="5" height="30" fill="#FF0000"/>
<rect x="391" y="352" width="3" height="28" fill="#FF4500"/>
<rect x="400" y="301" width="1" height="52" fill="#FF0000"/>
<rect x="398" y="327" width="5" height="25" fill="#FF0000"/>
<rect x="399" y="328" width="3" height="23" fill="#FF4500"/>
<rect x="408" y="311" width="1" height="22" fill="#FF0000"/>
<rect x="406" y="312" width="5" height="16" fill="#FF0000"/>
<rect x="407" y="313" width="3" height="14" fill="#FF4500"/>
<rect x="416" y="311" width="1" height="40" fill="#32CD32"/>
<rect x="414" y="322" width="5" height="21" fill="#32CD32"/>
<rect x="424" y="288" width="1" height="66" fill="#FF0000"/>
<rect x="422" y="297" width="5" height="47" fill="#FF0000"/>
<rect x="423" y="298" width="3" height="45" fill="#FF4500"/>
<rect x="432" y="250" width="1" height="49" fill="#FF0000"/>
<rect x="430" y="255" width="5" height="43" fill="#FF0000"/>
<rect x="431" y="256" width="3" height="41" fill="#FF4500"/>
<rect x="440" y="209" width="1" height="61" fill="#FF0000"/>
<rect x="438" y="218" width="5" height="39" fill="#FF0000"/>
<rect x="439" y="219" width="3" height="37" fill="#FF4500"/>
<rect x="448" y="206" width="1" height="25" fill="#FF0000"/>
<rect x="446" y="209" width="5" height="10" fill="#FF0000"/>
<rect x="447" y="210" width="3" height="8" fill="#FF4500"/>
<rect x="456" y="205" width="1" height="9" fill="#32CD32"/>
<rect x="454" y="209" width="5" height="3" fill="#32CD32"/>
<rect x="464" y="178" width="1" height="38" fill="#FF0000"/>
<rect x="462" y="188" width="5" height="27" fill="#FF0000"/>
<rect x="463" y="189" width="3" height="25" fill="#FF4500"/>
<rect x="472" y="180" width="1" height="24" fill="#32CD32"/>
<rect x="470" y="188" width="5" height="1" fill="#32CD32"/>
<rect x="480" y="176" width="1" height="32" fill="#32CD32"/>
<rect x="478" y="189" width="5" height="18" fill="#32CD32"/>
<rect x="488" y="197" width="1" height="31" fill="#32CD32"/>
<rect x="486" y="206" width="5" height="10" fill="#32CD32"/>
<rect x="496" y="188" width="1" height="43" fill="#32CD32"/>
<rect x="494" y="215" width="5" height="15" fill="#32CD32"/>
<rect x="504" y="225" width="1" height="15" fill="#32CD32"/>
<rect x="502" y="230" width="5" height="3" fill="#32CD32"/>
<rect x="512" y="229" width="1" height="23" fill="#32CD32"/>
<rect x="510" y="231" width="5" height="18" fill="#32CD32"/>
<rect x="520" y="209" width="1" height="47" fill="#FF0000"/>
<rect x="518" y="214" width="5" height="35" fill="#FF0000"/>
<rect x="519" y="215" width="3" height="33" fill="#FF4500"/>
<rect x="528" y="172" width="1" height="49" fill="#FF0000"/>
<rect x="526" y="184" width="5" height="30" fill="#FF0000"/>
<rect x="527" y="185" width="3" height="28" fill="#FF4500"/>
<rect x="536" y="173" width="1" height="80" fill="#32CD32"/>
<rect x="534" y="183" width="5" height="60" fill="#32CD32"/>
<rect x="544" y="201" width="1" height="42" fill="#FF0000"/>
<rect x="542" y="222" width="5" height="21" fill="#FF0000"/>
<rect x="543" y="223" width="3" height="19" fill="#FF4500"/>
<rect x="552" y="211" width="1" height="22" fill="#FF0000"/>
<rect x="550" y="211" width="5" height="12" fill="#FF0000"/>
<rect x="551" y="212" width="3" height="10" fill="#FF4500"/>
<rect x="560" y="172" width="1" height="41" fill="#FF0000"/>
<rect x="558" y="189" width="5" height="24" fill="#FF0000"/>
<rect x="559" y="190" width="3" height="22" fill="#FF4500"/>
<rect x="568" y="147" width="1" height="46" fill="#FF0000"/>
<rect x="566" y="165" width="5" height="26" fill="#FF0000"/>
<rect x="567" y="166" width="3" height="24" fill="#FF4500"/>
<rect x="576" y="153" width="1" height="27" fill="#FF0000"/>
<rect x="574" y="158" width="5" height="8" fill="#FF0000"/>
<rect x="575" y="159" width="3" height="6" fill="#FF4500"/>
<rect x="584" y="140" width="1" height="25" fill="#000000"/>
<rect x="582" y="159" width="5" height="1" fill="#000000"/>
<rect x="592" y="141" width="1" height="30" fill="#32CD32"/>
<rect x="590" y="158" width="5" height="5" fill="#32CD32"/>
<rect x="600" y="159" width="1" height="12" fill="#32CD32"/>
<rect x="598" y="162" width="5" height="6" fill="#32CD32"/>
<rect x="608" y="117" width="1" height="60" fill="#FF0000"/>
<rect x="606" y="128" width="5" height="47" fill="#FF0000"/>
<rect x="607" y="129" width="3" height="45" fill="#FF4500"/>
<rect x="616" y="80" width="1" height="53" fill="#FF0000"/>
<rect x="614" y="99" width="5" height="30" fill="#FF0000"/>
<rect x="615" y="100" width="3" height="28" fill="#FF4500"/>
<rect x="624" y="95" width="1" height="32" fill="#FF0000"/>
<rect x="622" y="95" width="5" height="6" fill="#FF0000"/>
<rect x="623" y="96" width="3" height="4" fill="#FF4500"/>
<rect x="632" y="75" width="1" height="43" fill="#32CD32"/>
<rect x="630" y="95" width="5" height="5" fill="#32CD32"/>
<rect x="640" y="83" width="1" height="43" fill="#32CD32"/>
<rect x="638" y="99" width="5" height="4" fill="#32CD32"/>
<rect x="648" y="100" width="1" height="26" fill="#32CD32"/>
<rect x="646" y="102" width="5" height="19" fill="#32CD32"/>
<rect x="656" y="119" width="1" height="26" fill="#32CD32"/>
<rect x="654" y="126" width="5" height="4" fill="#32CD32"/>
<rect x="664" y="110" width="1" height="52" fill="#32CD32"/>
<rect x="662" y="129" width="5" height="22" fill="#32CD32"/>
<rect x="672" y="147" width="1" height="26" fill="#32CD32"/>
<rect x="670" y="149" width="5" height="22" fill="#32CD32"/>
<rect x="680" y="146" width="1" height="39" fill="#FF0000"/>
<rect x="678" y="170" width="5" height="2" fill="#FF0000"/>
<rect x="688" y="144" width="1" height="33" fill="#FF0000"/>
<rect x="686" y="168" width="5" height="4" fill="#FF0000"/>
<rect x="687" y="169" width="3" height="2" fill="#FF4500"/>
<rect x="696" y="164" width="1" height="15" fill="#FF0000"/>
<rect x="694" y="165" width="5" height="4" fill="#FF0000"/>
<rect x="695" y="166" width="3" height="2" fill="#FF4500"/>
<rect x="704" y="158" width="1" height="25" fill="#32CD32"/>
<rect x="702" y="164" width="5" height="1" fill="#32CD32"/>
<rect x="712" y="148" width="1" height="25" fill="#FF0000"/>
<rect x="710" y="161" width="5" height="5" fill="#FF0000"/>
<rect x="711" y="162" width="3" height="3" fill="#FF4500"/>
<rect x="720" y="157" width="1" height="46" fill="#32CD32"/>
<rect x="718" y="161" width="5" height="19" fill="#32CD32"/>
<rect x="728" y="153" width="1" height="83" fill="#32CD32"/>
<rect x="726" y="179" width="5" height="26" fill="#32CD32"/>
<rect x="736" y="158" width="1" height="47" fill="#FF0000"/>
<rect x="734" y="186" width="5" height="19" fill="#FF0000"/>
<rect x="735" y="187" width="3" height="17" fill="#FF4500"/>
<rect x="744" y="166" width="1" height="22" fill="#FF0000"/>
<rect x="742" y="171" width="5" height="16" fill="#FF0000"/>
<rect x="743" y="172" width="3" height="14" fill="#FF4500"/>
<rect x="752" y="148" width="1" height="36" fill="#FF0000"/>
<rect x="750" y="168" width="5" height="16" fill="#FF0000"/>
<rect x="751" y="169" width="3" height="14" fill="#FF4500"/>
<rect x="760" y="125" width="1" height="56" fill="#FF0000"/>
<rect x="758" y="133" width="5" height="36" fill="#FF0000"/>
<rect x="759" y="134" width="3" height="34" fill="#FF4500"/>
<rect x="768" y="114" width="1" height="25" fill="#FF0000"/>
<rect x="766" y="127" width="5" height="6" fill="#FF0000"/>
<rect x="767" y="128" width="3" height="4" fill="#FF4500"/>
<rect x="776" y="84" width="1" height="50" fill="#FF0000"/>
<rect x="774" y="90" width="5" height="37" fill="#FF0000"/>
<rect x="775" y="91" width="3" height="35" fill="#FF4500"/>
<rect x="784" y="51" width="1" height="51" fill="#32CD32"/>
<rect x="782" y="90" width="5" height="6" fill="#32CD32"/>
<rect x="792" y="93" width="1" height="10" fill="#32CD32"/>
<rect x="790" y="95" width="5" height="4" fill="#32CD32"/>
<rect x="800" y="62" width="1" height="40" fill="#FF0000"/>
<rect x="798" y="64" width="5" height="30" fill="#FF0000"/>
<rect x="799" y="65" width="3" height="28" fill="#FF4500"/>
<rect x="808" y="55" width="1" height="54" fill="#32CD32"/>
<rect x="806" y="64" width="5" height="30" fill="#32CD32"/>
<rect x="816" y="88" width="1" height="38" fill="#32CD32"/>
<rect x="814" y="94" width="5" height="31" fill="#32CD32"/>
<rect x="824" y="119" width="1" height="24" fill="#32CD32"/>
<rect x="822" y="124" width="5" height="2" fill="#32CD32"/>
<rect x="832" y="118" width="1" height="39" fill="#32CD32"/>
<rect x="830" y="125" width="5" height="18" fill="#32CD32"/>
<rect x="840" y="135" width="1" height="12" fill="#32CD32"/>
<rect x="838" y="142" width="5" height="2" fill="#32CD32"/>
<rect x="848" y="143" width="1" height="27" fill="#32CD32"/>
<rect x="846" y="150" width="5" height="15" fill="#32CD32"/>
<rect x="856" y="149" width="1" height="33" fill="#32CD32"/>
<rect x="854" y="163" width="5" height="3" fill="#32CD32"/>
<rect x="864" y="157" width="1" height="40" fill="#32CD32"/>
<rect x="862" y="165" width="5" height="26" fill="#32CD32"/>
<rect x="872" y="187" width="1" height="78" fill="#32CD32"/>
<rect x="870" y="190" width="5" height="48" fill="#32CD32"/>
<rect x="880" y="194" width="1" height="53" fill="#FF0000"/>
<rect x="878" y="222" width="5" height="16" fill="#FF0000"/>
<rect x="879" y="223" width="3" height="14" fill="#FF4500"/>
<rect x="888" y="208" width="1" height="24" fill="#FF0000"/>
<rect x="886" y="219" width="5" height="5" fill="#FF0000"/>
<rect x="887" y="220" width="3" height="3" fill="#FF4500"/>
<rect x="896" y="214" width="1" height="33" fill="#32CD32"/>
<rect x="894" y="224" width="5" height="18" fill="#32CD32"/>
<rect x="904" y="211" width="1" height="40" fill="#FF0000"/>
<rect x="902" y="222" width="5" height="21" fill="#FF0000"/>
<rect x="903" y="223" width="3" height="19" fill="#FF4500"/>
<rect x="912" y="198" width="1" height="58" fill="#FF0000"/>
<rect x="910" y="217" width="5" height="6" fill="#FF0000"/>
<rect x="911" y="218" width="3" height="4" fill="#FF4500"/>
<rect x="920" y="203" width="1" height="28" fill="#FF0000"/>
<rect x="918" y="216" width="5" height="1" fill="#FF0000"/>
<rect x="739" y="126" width="251" height="2" fill="#FA2026"/>
<rect x="746" y="183" width="243" height="2" fill="#8DC807"/>
<rect x="746" y="265" width="252" height="2" fill="#1C82E0"/>
</g>
<path d="M11 37h7l-3.5 4z" fill="#000" shape-rendering="geometricPrecision"/>
<text x="23.5" y="42" font-size="10.4" fill="#000" textLength="64" lengthAdjust="spacingAndGlyphs">USDCHF,Daily</text>
<text x="94.2" y="42" font-size="10.2" fill="#000" textLength="140.3" lengthAdjust="spacingAndGlyphs">0.99456 0.99595 0.99309 0.99460</text>
<g clip-path="url(#cax)">
<rect x="1171" y="42" width="2" height="1" fill="#000"/>
<text x="1176" y="46" font-size="9.6" fill="#000" textLength="32.7" lengthAdjust="spacingAndGlyphs">1.01330</text>
<rect x="1171" y="75" width="2" height="1" fill="#000"/>
<text x="1176" y="79" font-size="9.6" fill="#000" textLength="32.7" lengthAdjust="spacingAndGlyphs">1.00970</text>
<rect x="1171" y="108" width="2" height="1" fill="#000"/>
<text x="1176" y="112" font-size="9.6" fill="#000" textLength="32.7" lengthAdjust="spacingAndGlyphs">1.00620</text>
<rect x="1171" y="141" width="2" height="1" fill="#000"/>
<text x="1176" y="145" font-size="9.6" fill="#000" textLength="32.7" lengthAdjust="spacingAndGlyphs">1.00260</text>
<rect x="1171" y="174" width="2" height="1" fill="#000"/>
<text x="1176" y="178" font-size="9.6" fill="#000" textLength="32.7" lengthAdjust="spacingAndGlyphs">0.99910</text>
<rect x="1171" y="207" width="2" height="1" fill="#000"/>
<text x="1176" y="211" font-size="9.6" fill="#000" textLength="32.7" lengthAdjust="spacingAndGlyphs">0.99560</text>
<rect x="1171" y="240" width="2" height="1" fill="#000"/>
<text x="1176" y="244" font-size="9.6" fill="#000" textLength="32.7" lengthAdjust="spacingAndGlyphs">0.99200</text>
<rect x="1171" y="273" width="2" height="1" fill="#000"/>
<text x="1176" y="277" font-size="9.6" fill="#000" textLength="32.7" lengthAdjust="spacingAndGlyphs">0.98850</text>
<rect x="1171" y="306" width="2" height="1" fill="#000"/>
<text x="1176" y="310" font-size="9.6" fill="#000" textLength="32.7" lengthAdjust="spacingAndGlyphs">0.98490</text>
<rect x="1171" y="339" width="2" height="1" fill="#000"/>
<text x="1176" y="343" font-size="9.6" fill="#000" textLength="32.7" lengthAdjust="spacingAndGlyphs">0.98140</text>
<rect x="1171" y="372" width="2" height="1" fill="#000"/>
<text x="1176" y="376" font-size="9.6" fill="#000" textLength="32.7" lengthAdjust="spacingAndGlyphs">0.97780</text>
<rect x="1171" y="405" width="2" height="1" fill="#000"/>
<text x="1176" y="409" font-size="9.6" fill="#000" textLength="32.7" lengthAdjust="spacingAndGlyphs">0.97430</text>
<rect x="1171" y="438" width="2" height="1" fill="#000"/>
<text x="1176" y="442" font-size="9.6" fill="#000" textLength="32.7" lengthAdjust="spacingAndGlyphs">0.97080</text>
</g>
<rect x="1172" y="211" width="41" height="11" fill="#000"/>
<text x="1176" y="220" font-size="9.6" fill="#fff" textLength="32.7" lengthAdjust="spacingAndGlyphs">0.99460</text>
<rect x="8" y="450" width="1" height="25" fill="#C0C0C0"/>
<rect x="16" y="454" width="1" height="21" fill="#C0C0C0"/>
<rect x="24" y="457" width="1" height="18" fill="#C0C0C0"/>
<rect x="32" y="463" width="1" height="12" fill="#C0C0C0"/>
<rect x="40" y="468" width="1" height="7" fill="#C0C0C0"/>
<rect x="48" y="472" width="1" height="3" fill="#C0C0C0"/>
<rect x="56" y="473" width="1" height="2" fill="#C0C0C0"/>
<rect x="168" y="474" width="1" height="8" fill="#C0C0C0"/>
<rect x="176" y="474" width="1" height="11" fill="#C0C0C0"/>
<rect x="184" y="474" width="1" height="13" fill="#C0C0C0"/>
<rect x="192" y="474" width="1" height="13" fill="#C0C0C0"/>
<rect x="200" y="474" width="1" height="13" fill="#C0C0C0"/>
<rect x="208" y="474" width="1" height="13" fill="#C0C0C0"/>
<rect x="216" y="474" width="1" height="11" fill="#C0C0C0"/>
<rect x="224" y="474" width="1" height="8" fill="#C0C0C0"/>
<rect x="232" y="474" width="1" height="8" fill="#C0C0C0"/>
<rect x="240" y="474" width="1" height="8" fill="#C0C0C0"/>
<rect x="248" y="474" width="1" height="8" fill="#C0C0C0"/>
<rect x="256" y="474" width="1" height="9" fill="#C0C0C0"/>
<rect x="264" y="474" width="1" height="9" fill="#C0C0C0"/>
<rect x="272" y="474" width="1" height="9" fill="#C0C0C0"/>
<rect x="280" y="474" width="1" height="9" fill="#C0C0C0"/>
<rect x="288" y="474" width="1" height="11" fill="#C0C0C0"/>
<rect x="296" y="474" width="1" height="12" fill="#C0C0C0"/>
<rect x="304" y="474" width="1" height="14" fill="#C0C0C0"/>
<rect x="312" y="474" width="1" height="16" fill="#C0C0C0"/>
<rect x="320" y="474" width="1" height="17" fill="#C0C0C0"/>
<rect x="328" y="474" width="1" height="19" fill="#C0C0C0"/>
<rect x="336" y="474" width="1" height="18" fill="#C0C0C0"/>
<rect x="344" y="474" width="1" height="16" fill="#C0C0C0"/>
<rect x="352" y="474" width="1" height="16" fill="#C0C0C0"/>
<rect x="360" y="474" width="1" height="15" fill="#C0C0C0"/>
<rect x="368" y="474" width="1" height="17" fill="#C0C0C0"/>
<rect x="376" y="474" width="1" height="19" fill="#C0C0C0"/>
<rect x="384" y="474" width="1" height="21" fill="#C0C0C0"/>
<rect x="392" y="474" width="1" height="21" fill="#C0C0C0"/>
<rect x="400" y="474" width="1" height="20" fill="#C0C0C0"/>
<rect x="408" y="474" width="1" height="19" fill="#C0C0C0"/>
<rect x="416" y="474" width="1" height="19" fill="#C0C0C0"/>
<rect x="424" y="474" width="1" height="16" fill="#C0C0C0"/>
<rect x="432" y="474" width="1" height="11" fill="#C0C0C0"/>
<rect x="440" y="474" width="1" height="6" fill="#C0C0C0"/>
<rect x="456" y="472" width="1" height="3" fill="#C0C0C0"/>
<rect x="464" y="467" width="1" height="8" fill="#C0C0C0"/>
<rect x="472" y="464" width="1" height="11" fill="#C0C0C0"/>
<rect x="480" y="463" width="1" height="12" fill="#C0C0C0"/>
<rect x="488" y="462" width="1" height="13" fill="#C0C0C0"/>
<rect x="496" y="463" width="1" height="12" fill="#C0C0C0"/>
<rect x="504" y="464" width="1" height="11" fill="#C0C0C0"/>
<rect x="512" y="465" width="1" height="10" fill="#C0C0C0"/>
<rect x="520" y="464" width="1" height="11" fill="#C0C0C0"/>
<rect x="528" y="462" width="1" height="13" fill="#C0C0C0"/>
<rect x="536" y="462" width="1" height="13" fill="#C0C0C0"/>
<rect x="544" y="464" width="1" height="11" fill="#C0C0C0"/>
<rect x="552" y="464" width="1" height="11" fill="#C0C0C0"/>
<rect x="560" y="462" width="1" height="13" fill="#C0C0C0"/>
<rect x="568" y="461" width="1" height="14" fill="#C0C0C0"/>
<rect x="576" y="460" width="1" height="15" fill="#C0C0C0"/>
<rect x="584" y="458" width="1" height="17" fill="#C0C0C0"/>
<rect x="592" y="458" width="1" height="17" fill="#C0C0C0"/>
<rect x="600" y="458" width="1" height="17" fill="#C0C0C0"/>
<rect x="608" y="456" width="1" height="19" fill="#C0C0C0"/>
<rect x="616" y="453" width="1" height="22" fill="#C0C0C0"/>
<rect x="624" y="451" width="1" height="24" fill="#C0C0C0"/>
<rect x="632" y="450" width="1" height="25" fill="#C0C0C0"/>
<rect x="640" y="449" width="1" height="26" fill="#C0C0C0"/>
<rect x="648" y="450" width="1" height="25" fill="#C0C0C0"/>
<rect x="656" y="452" width="1" height="23" fill="#C0C0C0"/>
<rect x="664" y="454" width="1" height="21" fill="#C0C0C0"/>
<rect x="672" y="457" width="1" height="18" fill="#C0C0C0"/>
<rect x="680" y="460" width="1" height="15" fill="#C0C0C0"/>
<rect x="688" y="462" width="1" height="13" fill="#C0C0C0"/>
<rect x="696" y="464" width="1" height="11" fill="#C0C0C0"/>
<rect x="704" y="465" width="1" height="10" fill="#C0C0C0"/>
<rect x="712" y="466" width="1" height="9" fill="#C0C0C0"/>
<rect x="720" y="468" width="1" height="7" fill="#C0C0C0"/>
<rect x="728" y="471" width="1" height="4" fill="#C0C0C0"/>
<rect x="736" y="472" width="1" height="3" fill="#C0C0C0"/>
<rect x="744" y="473" width="1" height="2" fill="#C0C0C0"/>
<rect x="752" y="473" width="1" height="2" fill="#C0C0C0"/>
<rect x="760" y="471" width="1" height="4" fill="#C0C0C0"/>
<rect x="768" y="469" width="1" height="6" fill="#C0C0C0"/>
<rect x="776" y="466" width="1" height="9" fill="#C0C0C0"/>
<rect x="784" y="464" width="1" height="11" fill="#C0C0C0"/>
<rect x="792" y="463" width="1" height="12" fill="#C0C0C0"/>
<rect x="800" y="460" width="1" height="15" fill="#C0C0C0"/>
<rect x="808" y="459" width="1" height="16" fill="#C0C0C0"/>
<rect x="816" y="461" width="1" height="14" fill="#C0C0C0"/>
<rect x="824" y="462" width="1" height="13" fill="#C0C0C0"/>
<rect x="832" y="464" width="1" height="11" fill="#C0C0C0"/>
<rect x="840" y="466" width="1" height="9" fill="#C0C0C0"/>
<rect x="848" y="469" width="1" height="6" fill="#C0C0C0"/>
<rect x="856" y="471" width="1" height="4" fill="#C0C0C0"/>
<rect x="872" y="474" width="1" height="4" fill="#C0C0C0"/>
<rect x="880" y="474" width="1" height="8" fill="#C0C0C0"/>
<rect x="888" y="474" width="1" height="10" fill="#C0C0C0"/>
<rect x="896" y="474" width="1" height="12" fill="#C0C0C0"/>
<rect x="904" y="474" width="1" height="13" fill="#C0C0C0"/>
<rect x="912" y="474" width="1" height="13" fill="#C0C0C0"/>
<rect x="920" y="474" width="1" height="13" fill="#C0C0C0"/>
<rect x="64" y="474" width="1" height="1" fill="#C0C0C0"/>
<rect x="72" y="474" width="1" height="1" fill="#C0C0C0"/>
<rect x="80" y="474" width="1" height="1" fill="#C0C0C0"/>
<rect x="88" y="474" width="1" height="1" fill="#C0C0C0"/>
<rect x="96" y="474" width="1" height="1" fill="#C0C0C0"/>
<rect x="864" y="474" width="1" height="1" fill="#C0C0C0"/>
<g shape-rendering="crispEdges">
<path d="M8 447h3v1h-3zM14 448h3v1h-3zM20 449h3v1h-3zM26 450h3v1h-3zM32 451h1v1h-1zM660 451h3v1h-3zM666 451h3v1h-3zM672 451h3v1h-3zM678 451h3v1h-3zM33 452h2v1h-2zM649 452h3v1h-3zM655 452h3v1h-3zM684 452h3v1h-3zM38 453h3v1h-3zM639 453h1v1h-1zM643 453h3v1h-3zM690 453h3v1h-3zM44 454h1v1h-1zM633 454h1v1h-1zM637 454h2v1h-2zM696 454h3v1h-3zM45 455h2v1h-2zM627 455h1v1h-1zM631 455h2v1h-2zM702 455h2v1h-2zM50 456h2v1h-2zM621 456h1v1h-1zM625 456h2v1h-2zM704 456h1v1h-1zM708 456h1v1h-1zM52 457h1v1h-1zM614 457h2v1h-2zM619 457h2v1h-2zM709 457h2v1h-2zM56 458h3v1h-3zM607 458h3v1h-3zM613 458h1v1h-1zM714 458h3v1h-3zM602 459h3v1h-3zM720 459h1v1h-1zM62 460h2v1h-2zM592 460h2v1h-2zM597 460h3v1h-3zM721 460h2v1h-2zM64 461h1v1h-1zM573 461h3v1h-3zM579 461h3v1h-3zM585 461h3v1h-3zM591 461h1v1h-1zM726 461h3v1h-3zM68 462h2v1h-2zM561 462h3v1h-3zM567 462h3v1h-3zM732 462h1v1h-1zM826 462h3v1h-3zM832 462h3v1h-3zM838 462h3v1h-3zM844 462h3v1h-3zM850 462h3v1h-3zM70 463h1v1h-1zM521 463h2v1h-2zM526 463h3v1h-3zM532 463h3v1h-3zM538 463h3v1h-3zM544 463h3v1h-3zM550 463h3v1h-3zM556 463h3v1h-3zM733 463h2v1h-2zM820 463h3v1h-3zM856 463h3v1h-3zM74 464h1v1h-1zM515 464h3v1h-3zM521 464h1v1h-1zM738 464h2v1h-2zM809 464h3v1h-3zM815 464h3v1h-3zM862 464h3v1h-3zM75 465h2v1h-2zM509 465h3v1h-3zM740 465h1v1h-1zM744 465h1v1h-1zM803 465h3v1h-3zM868 465h2v1h-2zM504 466h3v1h-3zM745 466h2v1h-2zM750 466h1v1h-1zM799 466h1v1h-1zM870 466h1v1h-1zM80 467h2v1h-2zM499 467h2v1h-2zM751 467h2v1h-2zM756 467h3v1h-3zM797 467h2v1h-2zM874 467h3v1h-3zM82 468h1v1h-1zM498 468h1v1h-1zM762 468h3v1h-3zM785 468h3v1h-3zM791 468h3v1h-3zM86 469h1v1h-1zM494 469h2v1h-2zM768 469h3v1h-3zM774 469h3v1h-3zM780 469h3v1h-3zM880 469h3v1h-3zM87 470h2v1h-2zM493 470h1v1h-1zM886 470h1v1h-1zM92 471h3v1h-3zM489 471h1v1h-1zM887 471h2v1h-2zM98 472h3v1h-3zM487 472h2v1h-2zM892 472h3v1h-3zM104 473h3v1h-3zM110 473h3v1h-3zM898 473h3v1h-3zM116 474h3v1h-3zM122 474h3v1h-3zM128 474h2v1h-2zM482 474h2v1h-2zM904 474h1v1h-1zM130 475h1v1h-1zM134 475h3v1h-3zM140 475h3v1h-3zM146 475h3v1h-3zM152 475h3v1h-3zM481 475h1v1h-1zM905 475h2v1h-2zM158 476h3v1h-3zM164 476h1v1h-1zM476 476h2v1h-2zM165 477h2v1h-2zM170 477h2v1h-2zM475 477h1v1h-1zM910 477h2v1h-2zM172 478h1v1h-1zM176 478h2v1h-2zM471 478h1v1h-1zM912 478h1v1h-1zM178 479h1v1h-1zM182 479h1v1h-1zM470 479h2v1h-2zM916 479h1v1h-1zM183 480h2v1h-2zM188 480h1v1h-1zM917 480h2v1h-2zM189 481h2v1h-2zM265 481h1v1h-1zM269 481h3v1h-3zM275 481h3v1h-3zM465 481h2v1h-2zM194 482h3v1h-3zM252 482h3v1h-3zM258 482h3v1h-3zM264 482h2v1h-2zM281 482h3v1h-3zM464 482h1v1h-1zM200 483h3v1h-3zM206 483h3v1h-3zM212 483h3v1h-3zM218 483h3v1h-3zM224 483h2v1h-2zM229 483h3v1h-3zM235 483h3v1h-3zM241 483h3v1h-3zM247 483h3v1h-3zM287 483h3v1h-3zM293 483h3v1h-3zM299 483h3v1h-3zM305 483h3v1h-3zM225 484h1v1h-1zM311 484h3v1h-3zM317 484h3v1h-3zM459 484h3v1h-3zM323 485h2v1h-2zM325 486h1v1h-1zM454 486h2v1h-2zM329 487h3v1h-3zM449 487h1v1h-1zM453 487h1v1h-1zM335 488h3v1h-3zM447 488h2v1h-2zM341 489h3v1h-3zM347 489h3v1h-3zM353 489h3v1h-3zM359 489h3v1h-3zM365 489h3v1h-3zM371 489h3v1h-3zM441 489h3v1h-3zM377 490h3v1h-3zM436 490h3v1h-3zM383 491h3v1h-3zM389 491h3v1h-3zM395 491h3v1h-3zM401 491h3v1h-3zM431 491h2v1h-2zM407 492h3v1h-3zM413 492h3v1h-3zM419 492h3v1h-3zM425 492h3v1h-3zM431 492h1v1h-1z" fill="#FF0000"/>
</g>
<text x="12" y="456" font-size="9.6" fill="#000" textLength="154" lengthAdjust="spacingAndGlyphs">MACD(12,26,9) -0.002180 -0.001235</text>
<rect x="1171" y="445" width="2" height="1" fill="#000"/>
<rect x="1171" y="474" width="2" height="1" fill="#000"/>
<rect x="1171" y="497" width="2" height="1" fill="#000"/>
<text x="1174.4" y="454" font-size="9.6" fill="#000" textLength="37.5" lengthAdjust="spacingAndGlyphs">0.004718</text>
<text x="1174.4" y="478" font-size="9.6" fill="#000" textLength="17.5" lengthAdjust="spacingAndGlyphs">0.00</text>
<text x="1174.4" y="495" font-size="9.6" fill="#000" textLength="40.4" lengthAdjust="spacingAndGlyphs">-0.003893</text>
<line x1="8" y1="526.5" x2="1170" y2="526.5" stroke="#C0C0C0" stroke-width="1" stroke-dasharray="3,3"/>
<line x1="8" y1="558.5" x2="1170" y2="558.5" stroke="#C0C0C0" stroke-width="1" stroke-dasharray="3,3"/>
<g shape-rendering="crispEdges">
<path d="M614 526h18v1h-18zM798 526h3v1h-3zM611 527h3v1h-3zM632 527h9v1h-9zM796 527h2v1h-2zM801 527h1v1h-1zM609 528h2v1h-2zM641 528h2v1h-2zM775 528h9v1h-9zM794 528h2v1h-2zM802 528h1v1h-1zM607 529h2v1h-2zM643 529h2v1h-2zM773 529h2v1h-2zM784 529h10v1h-10zM803 529h2v1h-2zM605 530h2v1h-2zM645 530h2v1h-2zM772 530h1v1h-1zM792 530h1v1h-1zM805 530h1v1h-1zM603 531h2v1h-2zM647 531h2v1h-2zM770 531h2v1h-2zM806 531h1v1h-1zM460 532h15v1h-15zM569 532h21v1h-21zM601 532h2v1h-2zM649 532h4v1h-4zM768 532h2v1h-2zM807 532h1v1h-1zM456 533h4v1h-4zM475 533h2v1h-2zM526 533h3v1h-3zM565 533h4v1h-4zM590 533h9v1h-9zM600 533h1v1h-1zM653 533h4v1h-4zM761 533h8v1h-8zM808 533h1v1h-1zM8 534h2v1h-2zM440 534h17v1h-17zM477 534h3v1h-3zM524 534h2v1h-2zM529 534h1v1h-1zM561 534h4v1h-4zM599 534h1v1h-1zM657 534h2v1h-2zM760 534h2v1h-2zM809 534h2v1h-2zM10 535h2v1h-2zM437 535h4v1h-4zM480 535h6v1h-6zM522 535h2v1h-2zM530 535h1v1h-1zM558 535h4v1h-4zM659 535h2v1h-2zM758 535h2v1h-2zM811 535h1v1h-1zM12 536h2v1h-2zM435 536h2v1h-2zM486 536h5v1h-5zM520 536h2v1h-2zM531 536h1v1h-1zM555 536h3v1h-3zM661 536h2v1h-2zM757 536h1v1h-1zM812 536h2v1h-2zM14 537h1v1h-1zM432 537h3v1h-3zM491 537h5v1h-5zM518 537h3v1h-3zM532 537h1v1h-1zM552 537h3v1h-3zM663 537h1v1h-1zM756 537h1v1h-1zM814 537h1v1h-1zM15 538h2v1h-2zM431 538h2v1h-2zM496 538h7v1h-7zM516 538h2v1h-2zM532 538h1v1h-1zM544 538h9v1h-9zM664 538h2v1h-2zM755 538h1v1h-1zM815 538h9v1h-9zM17 539h1v1h-1zM213 539h5v1h-5zM429 539h2v1h-2zM503 539h4v1h-4zM515 539h1v1h-1zM533 539h1v1h-1zM541 539h3v1h-3zM666 539h2v1h-2zM711 539h2v1h-2zM753 539h2v1h-2zM824 539h2v1h-2zM18 540h2v1h-2zM93 540h4v1h-4zM209 540h4v1h-4zM218 540h2v1h-2zM428 540h1v1h-1zM507 540h3v1h-3zM513 540h2v1h-2zM534 540h1v1h-1zM539 540h2v1h-2zM668 540h2v1h-2zM707 540h4v1h-4zM713 540h2v1h-2zM752 540h1v1h-1zM826 540h2v1h-2zM20 541h1v1h-1zM89 541h4v1h-4zM97 541h2v1h-2zM111 541h13v1h-13zM207 541h3v1h-3zM220 541h1v1h-1zM426 541h2v1h-2zM510 541h3v1h-3zM535 541h4v1h-4zM670 541h2v1h-2zM681 541h27v1h-27zM715 541h2v1h-2zM747 541h6v1h-6zM828 541h2v1h-2zM21 542h2v1h-2zM76 542h14v1h-14zM99 542h1v1h-1zM109 542h3v1h-3zM124 542h4v1h-4zM205 542h2v1h-2zM221 542h2v1h-2zM263 542h2v1h-2zM425 542h1v1h-1zM536 542h1v1h-1zM672 542h10v1h-10zM717 542h2v1h-2zM742 542h5v1h-5zM830 542h2v1h-2zM23 543h1v1h-1zM73 543h3v1h-3zM100 543h2v1h-2zM108 543h1v1h-1zM128 543h4v1h-4zM140 543h5v1h-5zM204 543h1v1h-1zM223 543h2v1h-2zM262 543h1v1h-1zM265 543h1v1h-1zM423 543h3v1h-3zM719 543h2v1h-2zM739 543h4v1h-4zM832 543h10v1h-10zM24 544h2v1h-2zM63 544h10v1h-10zM102 544h1v1h-1zM106 544h2v1h-2zM132 544h8v1h-8zM145 544h1v1h-1zM202 544h2v1h-2zM225 544h2v1h-2zM261 544h1v1h-1zM266 544h1v1h-1zM339 544h7v1h-7zM422 544h1v1h-1zM721 544h1v1h-1zM736 544h3v1h-3zM842 544h3v1h-3zM26 545h1v1h-1zM61 545h2v1h-2zM103 545h1v1h-1zM105 545h1v1h-1zM136 545h1v1h-1zM146 545h1v1h-1zM200 545h2v1h-2zM227 545h3v1h-3zM259 545h2v1h-2zM267 545h1v1h-1zM336 545h3v1h-3zM346 545h3v1h-3zM405 545h6v1h-6zM420 545h2v1h-2zM722 545h2v1h-2zM734 545h3v1h-3zM845 545h3v1h-3zM27 546h1v1h-1zM60 546h1v1h-1zM104 546h1v1h-1zM147 546h1v1h-1zM195 546h6v1h-6zM230 546h2v1h-2zM233 546h18v1h-18zM258 546h1v1h-1zM268 546h1v1h-1zM335 546h1v1h-1zM349 546h13v1h-13zM401 546h4v1h-4zM411 546h2v1h-2zM418 546h2v1h-2zM724 546h1v1h-1zM732 546h2v1h-2zM848 546h9v1h-9zM28 547h2v1h-2zM58 547h2v1h-2zM148 547h1v1h-1zM190 547h5v1h-5zM232 547h1v1h-1zM251 547h3v1h-3zM257 547h1v1h-1zM269 547h1v1h-1zM288 547h9v1h-9zM334 547h1v1h-1zM352 547h1v1h-1zM362 547h1v1h-1zM398 547h4v1h-4zM413 547h2v1h-2zM417 547h1v1h-1zM725 547h2v1h-2zM730 547h2v1h-2zM857 547h2v1h-2zM30 548h1v1h-1zM46 548h12v1h-12zM149 548h1v1h-1zM185 548h5v1h-5zM254 548h3v1h-3zM270 548h1v1h-1zM286 548h2v1h-2zM297 548h2v1h-2zM333 548h1v1h-1zM363 548h2v1h-2zM396 548h2v1h-2zM415 548h2v1h-2zM727 548h3v1h-3zM859 548h2v1h-2zM31 549h1v1h-1zM44 549h2v1h-2zM56 549h1v1h-1zM150 549h1v1h-1zM183 549h3v1h-3zM256 549h1v1h-1zM271 549h1v1h-1zM285 549h1v1h-1zM299 549h1v1h-1zM332 549h1v1h-1zM365 549h2v1h-2zM393 549h3v1h-3zM728 549h1v1h-1zM861 549h2v1h-2zM32 550h5v1h-5zM41 550h3v1h-3zM151 550h1v1h-1zM181 550h2v1h-2zM272 550h3v1h-3zM283 550h2v1h-2zM300 550h2v1h-2zM310 550h11v1h-11zM332 550h1v1h-1zM367 550h1v1h-1zM391 550h2v1h-2zM863 550h1v1h-1zM909 550h12v1h-12zM37 551h4v1h-4zM152 551h11v1h-11zM180 551h1v1h-1zM275 551h2v1h-2zM282 551h1v1h-1zM302 551h1v1h-1zM307 551h3v1h-3zM321 551h2v1h-2zM331 551h1v1h-1zM368 551h10v1h-10zM389 551h2v1h-2zM864 551h2v1h-2zM904 551h5v1h-5zM163 552h3v1h-3zM178 552h2v1h-2zM277 552h5v1h-5zM303 552h4v1h-4zM323 552h2v1h-2zM330 552h1v1h-1zM378 552h2v1h-2zM388 552h1v1h-1zM866 552h1v1h-1zM901 552h4v1h-4zM166 553h3v1h-3zM176 553h2v1h-2zM280 553h1v1h-1zM305 553h1v1h-1zM325 553h2v1h-2zM329 553h1v1h-1zM380 553h2v1h-2zM386 553h2v1h-2zM867 553h1v1h-1zM878 553h15v1h-15zM899 553h2v1h-2zM169 554h8v1h-8zM327 554h2v1h-2zM382 554h4v1h-4zM868 554h2v1h-2zM876 554h2v1h-2zM893 554h6v1h-6zM328 555h1v1h-1zM384 555h1v1h-1zM870 555h1v1h-1zM874 555h2v1h-2zM896 555h1v1h-1zM871 556h1v1h-1zM873 556h1v1h-1zM872 557h1v1h-1z" fill="#1E90FF"/>
</g>
<text x="12" y="513" font-size="9.6" fill="#000" textLength="68" lengthAdjust="spacingAndGlyphs">RSI(14) 40.4140</text>
<rect x="1171" y="502" width="2" height="1" fill="#000"/>
<rect x="1171" y="526" width="2" height="1" fill="#000"/>
<rect x="1171" y="558" width="2" height="1" fill="#000"/>
<rect x="1171" y="582" width="2" height="1" fill="#000"/>
<text x="1174.4" y="511" font-size="9.6" fill="#000" textLength="14.5" lengthAdjust="spacingAndGlyphs">100</text>
<text x="1173.2" y="530" font-size="9.6" fill="#000" textLength="9.8" lengthAdjust="spacingAndGlyphs">70</text>
<text x="1173.2" y="562" font-size="9.6" fill="#000" textLength="9.8" lengthAdjust="spacingAndGlyphs">30</text>
<text x="1174.4" y="580" font-size="9.6" fill="#000" textLength="5" lengthAdjust="spacingAndGlyphs">0</text>
<rect x="8" y="584" width="1" height="3" fill="#000"/>
<text x="7.1" y="596" font-size="9.6" fill="#000" textLength="52.74" lengthAdjust="spacingAndGlyphs">15 Nov 2018</text>
<rect x="72" y="584" width="1" height="3" fill="#000"/>
<text x="71.1" y="596" font-size="9.6" fill="#000" textLength="52.74" lengthAdjust="spacingAndGlyphs">24 Nov 2018</text>
<rect x="136" y="584" width="1" height="3" fill="#000"/>
<text x="135.1" y="596" font-size="9.6" fill="#000" textLength="47.56" lengthAdjust="spacingAndGlyphs">4 Dec 2018</text>
<rect x="200" y="584" width="1" height="3" fill="#000"/>
<text x="199.1" y="596" font-size="9.6" fill="#000" textLength="52.74" lengthAdjust="spacingAndGlyphs">13 Dec 2018</text>
<rect x="264" y="584" width="1" height="3" fill="#000"/>
<text x="263.1" y="596" font-size="9.6" fill="#000" textLength="52.74" lengthAdjust="spacingAndGlyphs">22 Dec 2018</text>
<rect x="328" y="584" width="1" height="3" fill="#000"/>
<text x="327.1" y="596" font-size="9.6" fill="#000" textLength="46.02" lengthAdjust="spacingAndGlyphs">1 Jan 2019</text>
<rect x="392" y="584" width="1" height="3" fill="#000"/>
<text x="391.1" y="596" font-size="9.6" fill="#000" textLength="51.19" lengthAdjust="spacingAndGlyphs">10 Jan 2019</text>
<rect x="456" y="584" width="1" height="3" fill="#000"/>
<text x="455.1" y="596" font-size="9.6" fill="#000" textLength="51.19" lengthAdjust="spacingAndGlyphs">19 Jan 2019</text>
<rect x="520" y="584" width="1" height="3" fill="#000"/>
<text x="519.1" y="596" font-size="9.6" fill="#000" textLength="51.19" lengthAdjust="spacingAndGlyphs">29 Jan 2019</text>
<rect x="584" y="584" width="1" height="3" fill="#000"/>
<text x="583.1" y="596" font-size="9.6" fill="#000" textLength="47.05" lengthAdjust="spacingAndGlyphs">7 Feb 2019</text>
<rect x="648" y="584" width="1" height="3" fill="#000"/>
<text x="647.1" y="596" font-size="9.6" fill="#000" textLength="52.22" lengthAdjust="spacingAndGlyphs">16 Feb 2019</text>
<rect x="712" y="584" width="1" height="3" fill="#000"/>
<text x="711.1" y="596" font-size="9.6" fill="#000" textLength="52.22" lengthAdjust="spacingAndGlyphs">26 Feb 2019</text>
<rect x="776" y="584" width="1" height="3" fill="#000"/>
<text x="775.1" y="596" font-size="9.6" fill="#000" textLength="47.04" lengthAdjust="spacingAndGlyphs">7 Mar 2019</text>
<rect x="840" y="584" width="1" height="3" fill="#000"/>
<text x="839.1" y="596" font-size="9.6" fill="#000" textLength="52.21" lengthAdjust="spacingAndGlyphs">16 Mar 2019</text>
<rect x="904" y="584" width="1" height="3" fill="#000"/>
<text x="903.1" y="596" font-size="9.6" fill="#000" textLength="52.21" lengthAdjust="spacingAndGlyphs">26 Mar 2019</text>
<rect x="3" y="604" width="1212" height="2" fill="#ffffff"/>
<rect x="3" y="604" width="1212" height="1" fill="#e2e2e2"/>
<rect x="5" y="607" width="1210" height="19" fill="#eeeeee"/>
<rect x="0" y="626" width="1215" height="2" fill="#f6f6f6"/>
<rect x="0" y="625" width="5" height="1" fill="#808080"/>
<rect x="3" y="606" width="215" height="1" fill="#000"/>
<rect x="317" y="606" width="898" height="1" fill="#000"/>
<rect x="218" y="604" width="99" height="20" fill="#fff"/>
<rect x="217" y="606" width="1" height="19" fill="#000"/>
<rect x="317" y="606" width="1" height="19" fill="#000"/>
<rect x="217" y="624" width="101" height="1" fill="#000"/>
<g clip-path="url(#ctab)">
<text x="21" y="621" font-size="12.4" fill="#727272" textLength="80" lengthAdjust="spacingAndGlyphs">EURUSD,Daily</text>
<text x="124" y="621" font-size="12.4" fill="#727272" textLength="82" lengthAdjust="spacingAndGlyphs">AUDUSD,Daily</text>
<text x="227.3" y="621" font-size="12.4" fill="#000" textLength="78.7" lengthAdjust="spacingAndGlyphs">USDCHF,Daily</text>
<text x="328.3" y="621" font-size="12.4" fill="#727272" textLength="81.0" lengthAdjust="spacingAndGlyphs">USDCAD,Daily</text>
<text x="431" y="621" font-size="12.4" fill="#727272" textLength="83" lengthAdjust="spacingAndGlyphs">USDCNH,Daily</text>
<text x="535" y="621" font-size="12.4" fill="#727272" textLength="75" lengthAdjust="spacingAndGlyphs">USDJPY,Daily</text>
<text x="632.3" y="621" font-size="12.4" fill="#727272" textLength="68.4" lengthAdjust="spacingAndGlyphs">XAUUSD,H1</text>
<text x="725" y="621" font-size="12.4" fill="#727272" textLength="67.7" lengthAdjust="spacingAndGlyphs">GBPUSD,H4</text>
<text x="817.3" y="621" font-size="12.4" fill="#727272" textLength="63.4" lengthAdjust="spacingAndGlyphs">SP500,M15</text>
<text x="905" y="621" font-size="12.4" fill="#727272" textLength="80" lengthAdjust="spacingAndGlyphs">GBPUSD,Daily</text>
<text x="1007.6" y="621" font-size="12.4" fill="#727272" textLength="46.0" lengthAdjust="spacingAndGlyphs">DJ30,H4</text>
<text x="1075.6" y="621" font-size="12.4" fill="#727272" textLength="69.4" lengthAdjust="spacingAndGlyphs">TECH100,H1</text>
<text x="1169.8" y="621" font-size="12.4" fill="#727272">UK100</text>
</g>
<rect x="1181" y="607" width="34" height="19" fill="#eeeeee"/>
<rect x="113" y="609" width="1" height="14" fill="#808080"/>
<rect x="421" y="609" width="1" height="14" fill="#808080"/>
<rect x="525" y="609" width="1" height="14" fill="#808080"/>
<rect x="621" y="609" width="1" height="14" fill="#808080"/>
<rect x="713" y="609" width="1" height="14" fill="#808080"/>
<rect x="805" y="609" width="1" height="14" fill="#808080"/>
<rect x="893" y="609" width="1" height="14" fill="#808080"/>
<rect x="997" y="609" width="1" height="14" fill="#808080"/>
<rect x="1065" y="609" width="1" height="14" fill="#808080"/>
<rect x="1157" y="609" width="1" height="14" fill="#808080"/>
<path d="M1189.5 611.5v7l-3.5-3.5z" fill="#909090" shape-rendering="geometricPrecision"/>
<path d="M1204.8 611.5v7l3.7-3.5z" fill="#000" shape-rendering="geometricPrecision"/>
</svg>
</body></html>
